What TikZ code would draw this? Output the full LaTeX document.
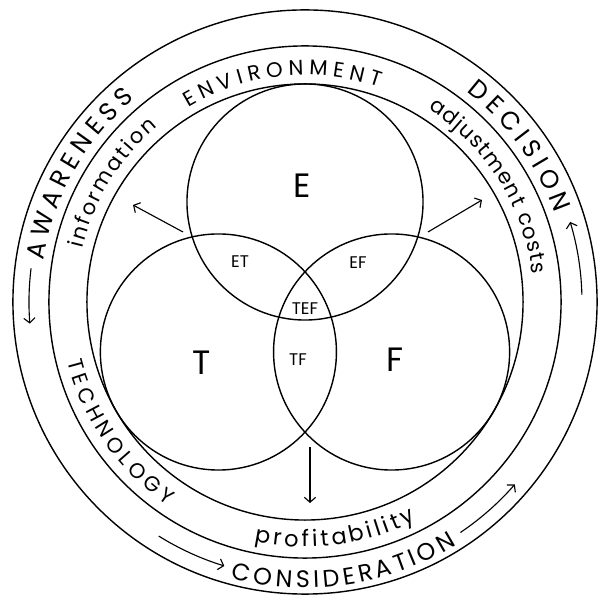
\documentclass[tikz,border=0pt]{standalone}
\usepackage{fontspec}
\setmainfont{Poppins}
\usetikzlibrary{arrows.meta,decorations.text}

\begin{document}
\begin{tikzpicture}[
  x=0.025cm, y=0.025cm,
  ring/.style={circle, draw, line width=1pt, inner sep=0pt},
  venn/.style={circle, draw, line width=1pt, inner sep=0pt, minimum size=5.9cm},
  arrow/.style={-{Straight Barb[length=3.5pt,width=8pt]}, line width=0.8pt},
  big/.style={font=\fontsize{24}{24}\selectfont},
  small/.style={font=\fontsize{12}{12}\selectfont},
  ringtext/.style={decorate, decoration={text along path, text align={fit to path}, text={#1}}}
]
\useasboundingbox (-305,-294) rectangle (295,302);
% rings
\node[ring, minimum size=14.6cm] (outer) at (0,0) {};
\node[ring, minimum size=12.8cm] (middle) at (0,0) {};
\node[ring, minimum size=10.9cm] (inner) at (0,0) {};
% the three sets
\node[venn] (E) at (0,100) {};
\node[venn] (T) at (-86.6,-50) {};
\node[venn] (F) at (86.6,-50) {};
\node[big] (lE) at (-3,116) {E};
\node[big] (lT) at (-103,-61) {T};
\node[big] (lF) at (90,-58) {F};
\node[small] (lET) at (-65,40) {ET};
\node[small] (lEF) at (53,39) {EF};
\node[small] (lTEF) at (0,-7) {TEF};
\node[small] (lTF) at (-7,-58) {TF};
% outward arrows
\coordinate (etfoot) at (-122,70);
\coordinate (ettip) at (-172,97);
\coordinate (effoot) at (123,70);
\coordinate (eftip) at (177,102);
\coordinate (tffoot) at (5,-145);
\coordinate (tftip) at (5,-201);
\draw[arrow] (etfoot) -- (ettip);
\draw[arrow] (effoot) -- (eftip);
\draw[arrow] (tffoot) -- (tftip);
% cycle arrows in the outer ring
\draw[arrow] (173:276) arc[start angle=173, end angle=184.5, radius=276];
\draw[arrow] (238:276) arc[start angle=238, end angle=253, radius=276];
\draw[arrow] (304:278) arc[start angle=304, end angle=319, radius=278];
\draw[arrow] (1.5:277) arc[start angle=1.5, end angle=16.8, radius=277];
% outer ring labels
\path[ringtext={|\fontsize{18}{18}\selectfont|AWARENESS}] (171:265) arc[start angle=171, end angle=130, radius=265];
\path[ringtext={|\fontsize{18}{18}\selectfont|DECISION}] (52.5:265) arc[start angle=52.5, end angle=19.5, radius=265];
\path[ringtext={|\fontsize{17}{17}\selectfont|CONSIDERATION}] (255:286) arc[start angle=255, end angle=302, radius=286];
% middle ring labels
\path[ringtext={|\fontsize{15}{15}\selectfont|ENVIRONMENT}] (121:227) arc[start angle=121, end angle=71, radius=227];
\path[ringtext={|\fontsize{15}{15}\selectfont|information}] (166.5:229) arc[start angle=166.5, end angle=130, radius=229];
\path[ringtext={|\fontsize{15}{15}\selectfont|adjustment costs}] (57.5:229) arc[start angle=57.5, end angle=7, radius=229];
\path[ringtext={|\fontsize{15}{15}\selectfont|TECHNOLOGY}] (194:245) arc[start angle=194, end angle=236, radius=245];
\path[ringtext={|\fontsize{16}{16}\selectfont|profitability}] (258:245) arc[start angle=258, end angle=297, radius=245];
\end{tikzpicture}
\end{document}
